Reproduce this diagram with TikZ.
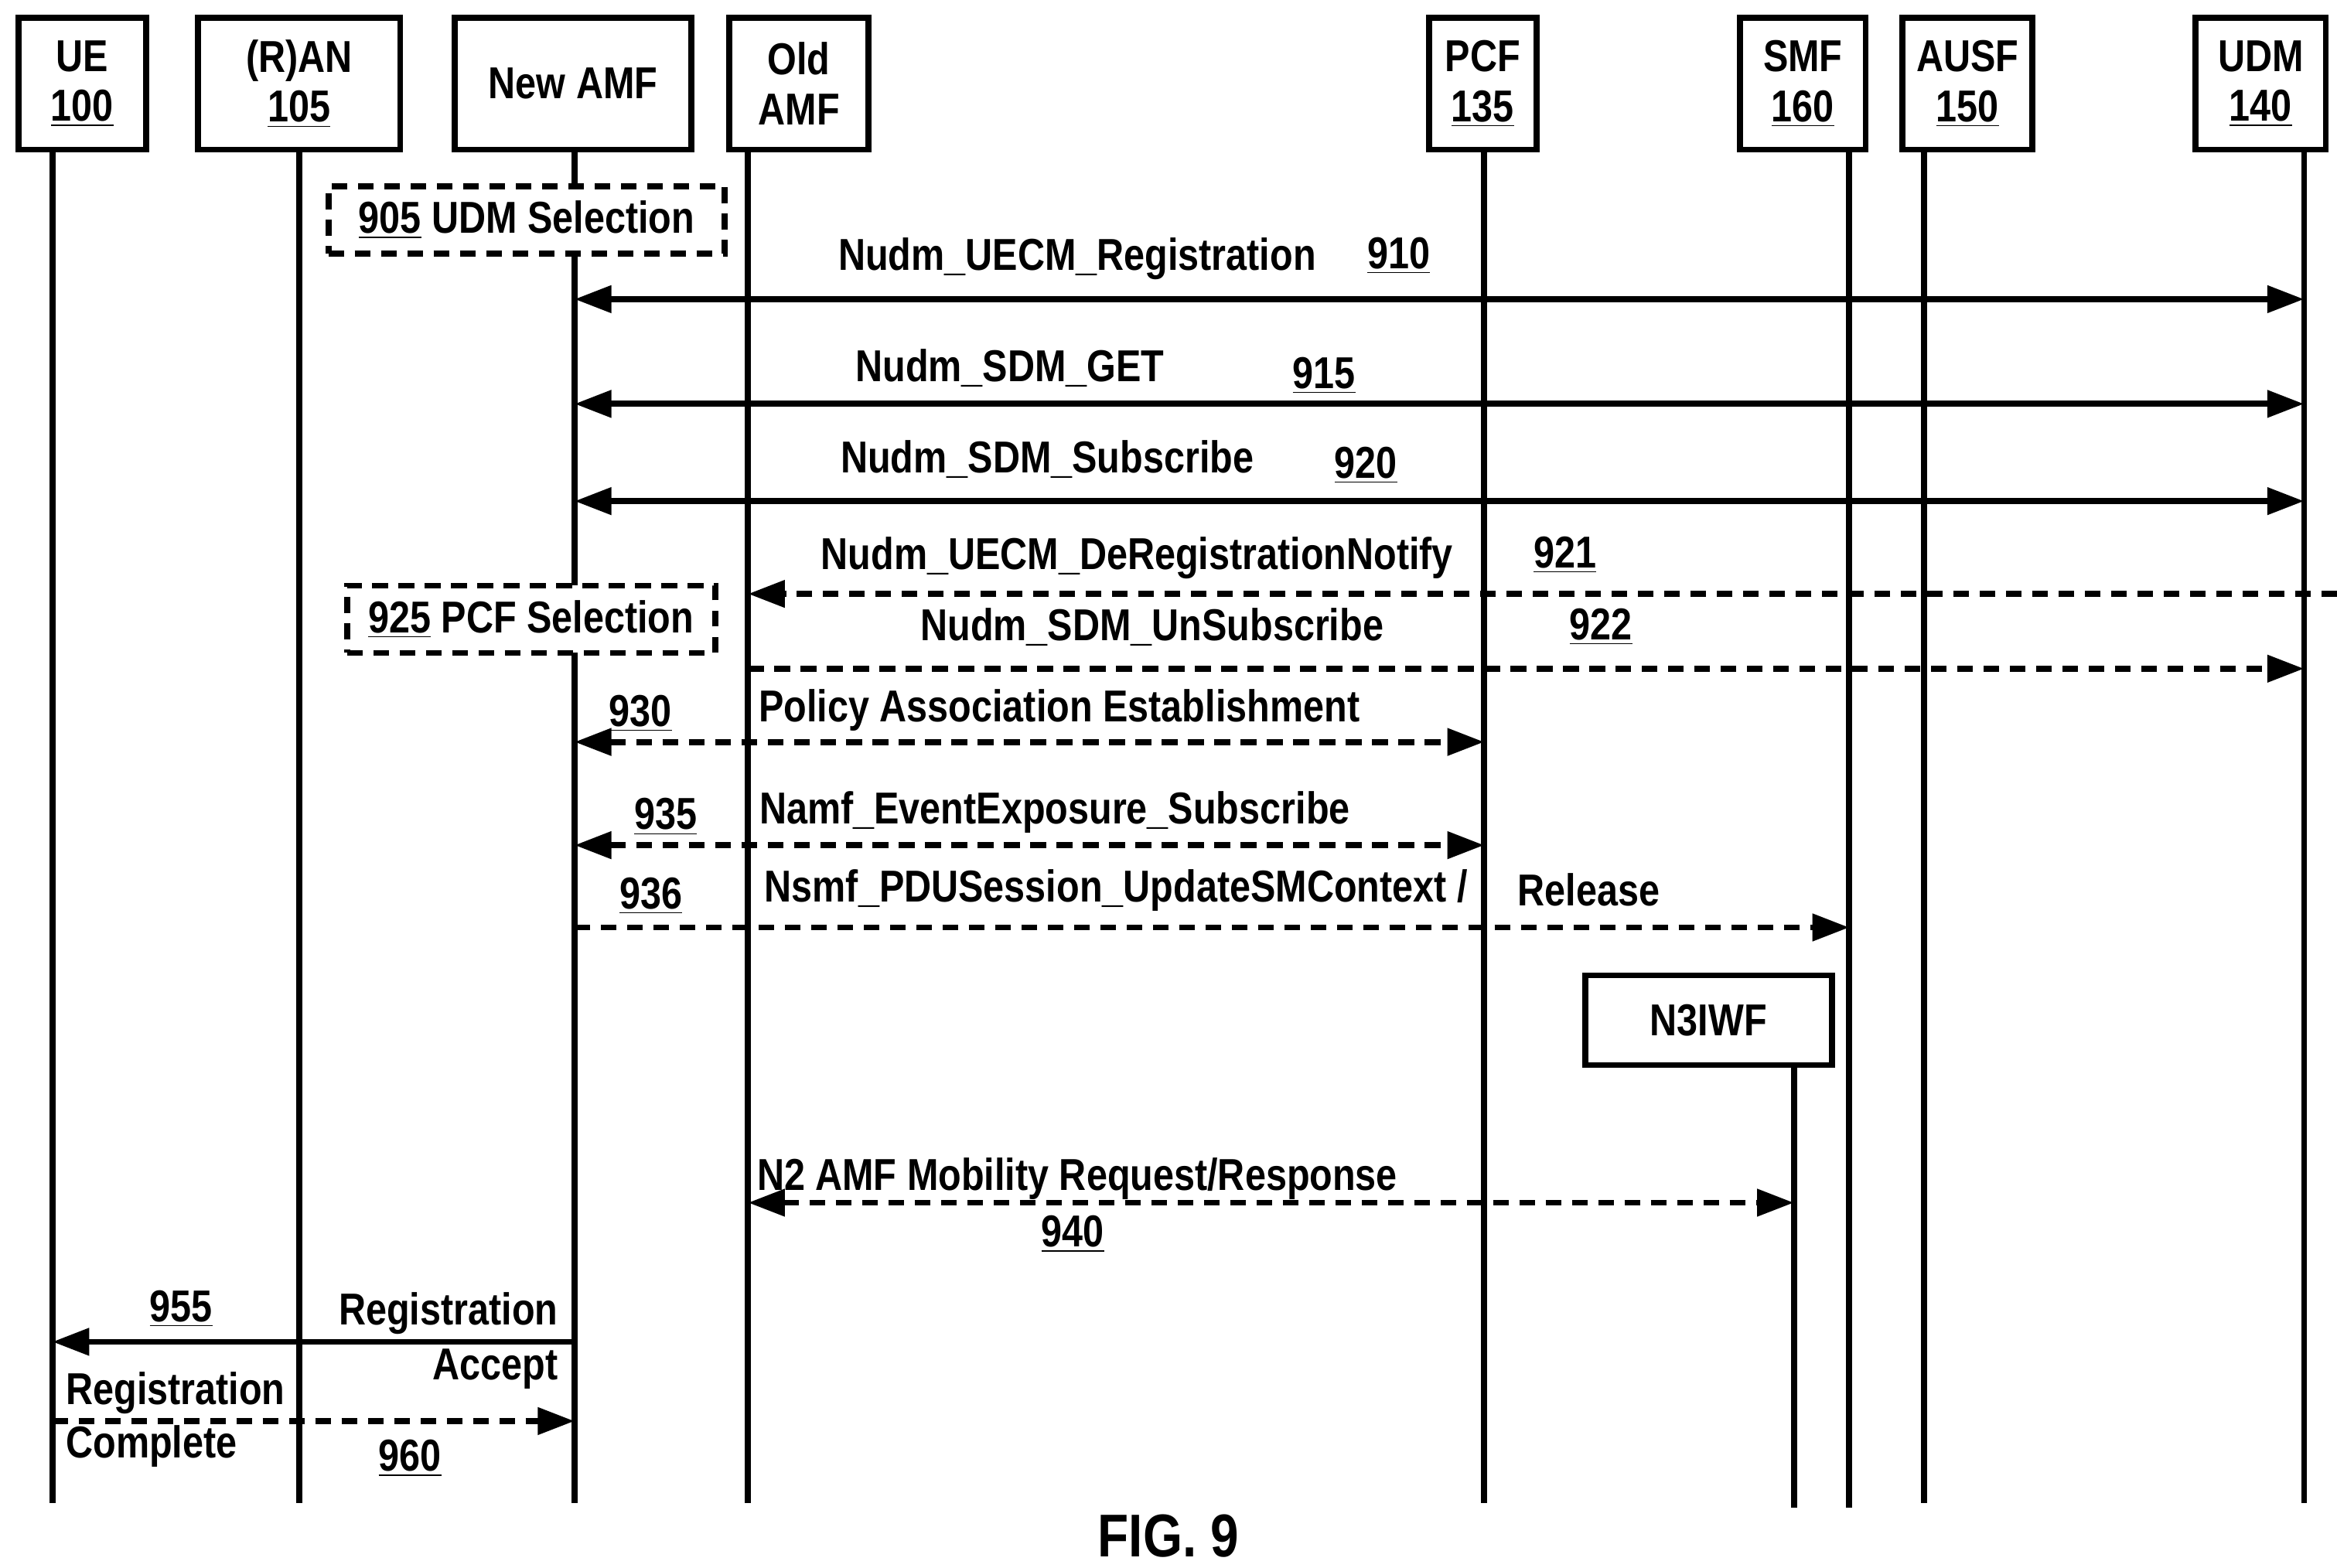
\documentclass[tikz,border=0pt]{standalone}
\usepackage{fontspec}
\setmainfont{Liberation Sans}[FakeStretch=0.84]
\usetikzlibrary{arrows.meta}
\begin{document}
\begin{tikzpicture}[x=0.02cm,y=-0.02cm,
  every node/.style={font=\bfseries\fontsize{17}{19}\selectfont},
  ent/.style={draw,line width=2.3pt,align=center,inner sep=0pt},
  life/.style={line width=2.3pt},
  msg/.style={line width=2.3pt,-{Triangle[length=14pt,width=10pt]}},
  bmsg/.style={line width=2.3pt,{Triangle[length=14pt,width=10pt]}-{Triangle[length=14pt,width=10pt]}},
  dsh/.style={dash pattern=on 6pt off 4pt},
  lbl/.style={inner sep=1pt}]
\useasboundingbox (0,0) rectangle (1562,1048);
% entity boxes
\node[ent,minimum width=1.7cm,minimum height=1.76cm] (ue) at (55,56) {UE\\\underline{100}};
\node[ent,minimum width=2.7cm,minimum height=1.76cm] (ran) at (200,56) {(R)AN\\\underline{105}};
\node[ent,minimum width=3.16cm,minimum height=1.76cm] (namf) at (383,56) {New AMF};
\node[ent,minimum width=1.86cm,minimum height=1.76cm] (oamf) at (534,56) {Old\\AMF};
\node[ent,minimum width=1.44cm,minimum height=1.76cm] (pcf) at (991,56) {PCF\\\underline{135}};
\node[ent,minimum width=1.68cm,minimum height=1.76cm] (smf) at (1205,56) {SMF\\\underline{160}};
\node[ent,minimum width=1.74cm,minimum height=1.76cm] (ausf) at (1315,56) {AUSF\\\underline{150}};
\node[ent,minimum width=1.74cm,minimum height=1.76cm] (udm) at (1511,56) {UDM\\\underline{140}};
\node[ent,minimum width=3.3cm,minimum height=1.2cm] (n3) at (1142,682) {N3IWF};
% lifelines
\coordinate (ueE) at (35,1005); \draw[life] (35,100) -- (ueE);
\coordinate (ranE) at (200,1005); \draw[life] (200,100) -- (ranE);
\coordinate (namfE) at (384,1005); \draw[life] (384,100) -- (namfE);
\coordinate (oamfE) at (500,1005); \draw[life] (500,100) -- (oamfE);
\coordinate (pcfE) at (992,1005); \draw[life] (992,100) -- (pcfE);
\coordinate (smfE) at (1236,1008); \draw[life] (1236,100) -- (smfE);
\coordinate (ausfE) at (1286,1005); \draw[life] (1286,100) -- (ausfE);
\coordinate (udmE) at (1540,1005); \draw[life] (1540,100) -- (udmE);
\coordinate (n3E) at (1199,1008); \draw[life] (1199,712) -- (n3E);
% selection boxes
\node[ent,dsh,fill=white,minimum width=5.3cm,minimum height=0.9cm] (b905) at (352,147) {\underline{905} UDM Selection};
\node[ent,dsh,fill=white,minimum width=4.92cm,minimum height=0.9cm] (b925) at (355,414) {\underline{925} PCF Selection};
% messages
\draw[bmsg] (384,200) -- (1540,200);
\node[lbl] (t910) at (720,173) {Nudm\_UECM\_Registration};
\node[lbl] (n910) at (935,171) {\underline{910}};
\draw[bmsg] (384,270) -- (1540,270);
\node[lbl] (t915) at (675,246) {Nudm\_SDM\_GET};
\node[lbl] (n915) at (885,251) {\underline{915}};
\draw[bmsg] (384,335) -- (1540,335);
\node[lbl] (t920) at (700,307) {Nudm\_SDM\_Subscribe};
\node[lbl] (n920) at (913,311) {\underline{920}};
\draw[msg,dsh] (1562,397) -- (500,397);
\node[lbl] (t921) at (760,373) {Nudm\_UECM\_DeRegistrationNotify};
\node[lbl] (n921) at (1046,371) {\underline{921}};
\draw[msg,dsh] (500,447) -- (1540,447);
\node[lbl] (t922) at (770,419) {Nudm\_SDM\_UnSubscribe};
\node[lbl] (n922) at (1070,419) {\underline{922}};
\draw[bmsg,dsh] (384,496) -- (992,496);
\node[lbl] (n930) at (428,477) {\underline{930}};
\node[lbl] (t930) at (708,475) {Policy Association Establishment};
\draw[bmsg,dsh] (384,565) -- (992,565);
\node[lbl] (n935) at (445,546) {\underline{935}};
\node[lbl] (t935) at (705,543) {Namf\_EventExposure\_Subscribe};
\draw[msg,dsh] (384,620) -- (1236,620);
\node[lbl] (n936) at (435,599) {\underline{936}};
\node[lbl] (t936) at (746,595) {Nsmf\_PDUSession\_UpdateSMContext /};
\node[lbl] (r936) at (1062,595) {Release};
\draw[bmsg,dsh] (500,804) -- (1199,804);
\node[lbl] (t940) at (720,788) {N2 AMF Mobility Request/Response};
\node[lbl] (n940) at (717,825) {\underline{940}};
\draw[msg] (384,897) -- (35,897);
\node[lbl] (n955) at (121,875) {\underline{955}};
\node[lbl,anchor=east] (t955a) at (375,878) {Registration};
\node[lbl,anchor=east] (t955b) at (375,915) {Accept};
\draw[msg,dsh] (35,950) -- (384,950);
\node[lbl,anchor=west] (t960a) at (42,931) {Registration};
\node[lbl,anchor=west] (t960b) at (42,967) {Complete};
\node[lbl] (n960) at (274,975) {\underline{960}};
\node[font=\bfseries\fontsize{23}{26}\selectfont] (fig) at (781,1027) {FIG. 9};
\end{tikzpicture}
\end{document}
